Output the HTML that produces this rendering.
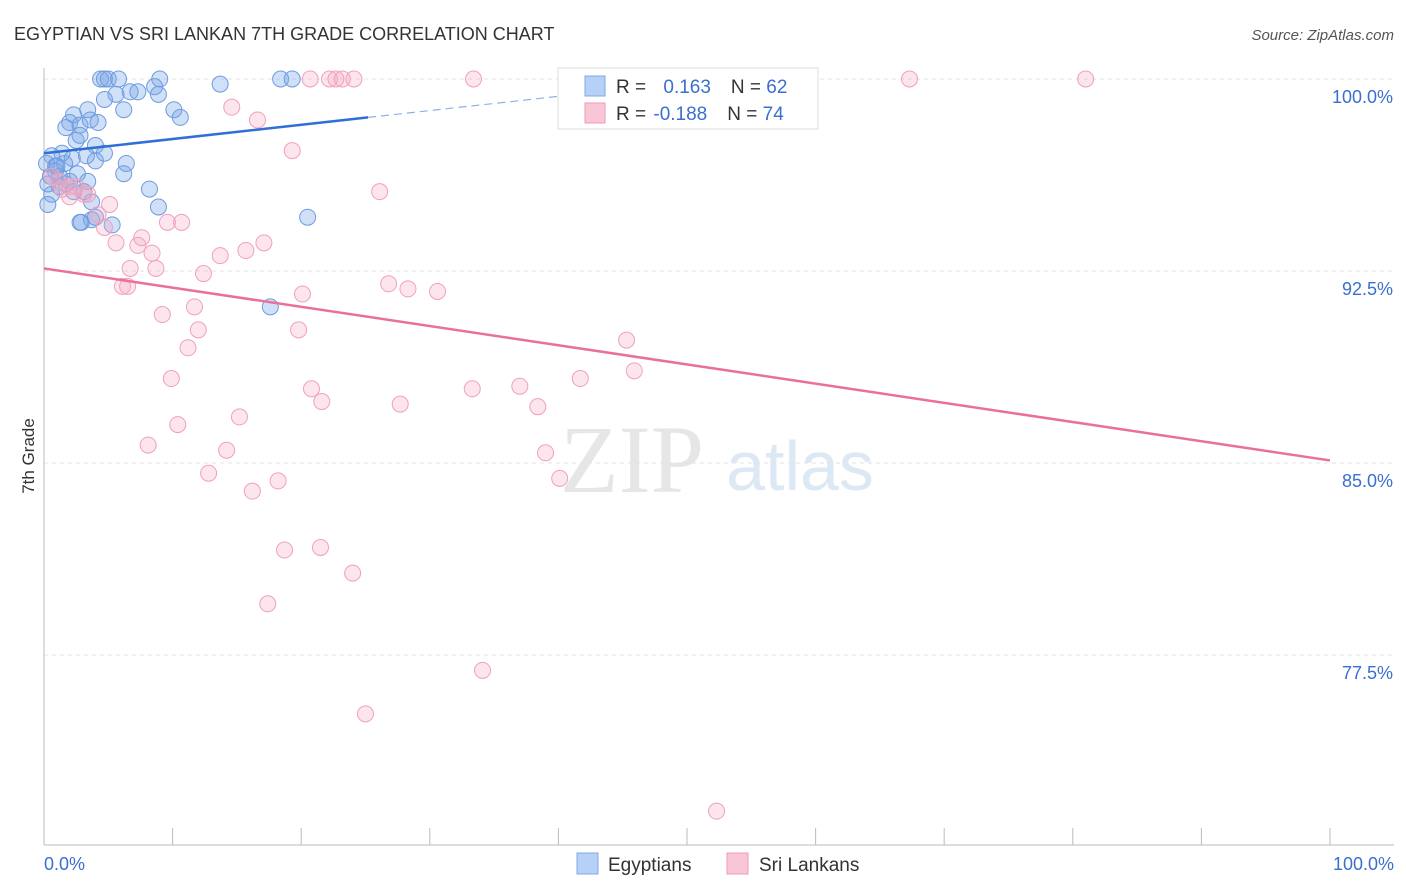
<!DOCTYPE html>
<html><head><meta charset="utf-8"><style>
body{margin:0;background:#fff;font-family:"Liberation Sans",sans-serif;}
svg{display:block}
</style></head><body>
<svg id="chart" width="1406" height="892">
<text x="14" y="40" font-size="18" fill="#333">EGYPTIAN VS SRI LANKAN 7TH GRADE CORRELATION CHART</text>
<text x="1394" y="40" font-size="15" fill="#555" text-anchor="end" font-style="italic">Source: ZipAtlas.com</text>
<text x="34" y="456" font-size="17" fill="#333" text-anchor="middle" transform="rotate(-90 34 456)">7th Grade</text>
<text x="632" y="492" font-size="96" fill="#e6e6e6" font-family="Liberation Serif,serif" text-anchor="middle">ZIP</text>
<text x="800" y="490" font-size="70" fill="#dde8f5" text-anchor="middle">atlas</text>
<g id="grid"></g><g id="marks"></g>
<g>
<rect x="558" y="68" width="260" height="61" fill="#fff" stroke="#ddd"/>
<rect x="585" y="76" width="20" height="20" fill="#b7d0f5" stroke="#7fa8e6"/>
<rect x="585" y="103" width="20" height="20" fill="#f8c6d6" stroke="#ee9bb7"/>
<text x="616" y="93" font-size="19" fill="#333">R = <tspan fill="#3a6fd0" dx="12">0.163</tspan><tspan dx="20">N = </tspan><tspan fill="#3a6fd0">62</tspan></text>
<text x="616" y="120" font-size="19" fill="#333">R = <tspan fill="#3a6fd0" dx="2">-0.188</tspan><tspan dx="20">N = </tspan><tspan fill="#3a6fd0">74</tspan></text>
</g>
<g>
<rect x="577" y="853" width="21" height="21" fill="#b7d0f5" stroke="#7fa8e6"/>
<text x="608" y="871" font-size="19" fill="#333">Egyptians</text>
<rect x="727" y="853" width="21" height="21" fill="#f8c6d6" stroke="#ee9bb7"/>
<text x="759" y="871" font-size="19" fill="#333">Sri Lankans</text>
</g>
</svg>
<script>
const yTicks=[100,92.5,85,77.5];
const yTickLabels=["100.0%","92.5%","85.0%","77.5%"];
const xTickLabels=["0.0%","100.0%"];
const egyX=[4.4,4.7,5.0,5.8,9.0,13.7,18.4,19.3,6.7,7.3,8.6,8.9,5.6,4.7,3.4,6.2,10.1,10.6,2.3,2.0,1.7,2.8,3.6,4.2,2.5,2.8,4.0,4.7,3.3,1.4,0.6,2.2,1.6,6.4,6.2,2.6,0.9,1.2,0.3,1.7,2.0,0.6,0.3,3.1,3.7,8.2,8.9,2.9,3.7,4.0,5.3,20.5,17.6,0.9,0.2,0.5,1.2,2.3,2.8,3.4,4.0,1.0];
const egyY=[100,100,100,100,100,99.8,100,100,99.5,99.5,99.7,99.4,99.4,99.2,98.8,98.8,98.8,98.5,98.6,98.3,98.1,98.2,98.4,98.3,97.6,97.8,97.4,97.1,97.0,97.1,97.0,96.9,96.7,96.7,96.3,96.3,96.4,96.2,95.9,95.9,96.0,95.5,95.1,95.6,95.2,95.7,95.0,94.4,94.5,94.6,94.3,94.6,91.1,96.6,96.7,96.2,95.8,95.6,94.4,96.0,96.8,96.6];
const sriX=[20.7,22.2,22.7,23.2,24.1,33.4,67.3,81.0,14.6,16.6,19.3,26.1,0.6,1.1,2.0,2.5,3.1,2.0,3.4,1.4,5.1,4.2,4.7,7.6,5.6,7.3,8.4,13.7,15.7,17.1,9.6,10.7,6.7,8.7,12.4,6.1,6.5,26.8,28.3,30.6,20.1,11.7,9.2,12.0,19.8,45.3,11.2,45.9,41.7,9.9,37.0,33.3,20.8,21.6,27.7,38.4,15.2,10.4,8.1,14.2,39.0,12.8,40.1,18.2,16.2,18.7,21.5,24.0,17.4,34.1,25.0,52.3];
const sriY=[100,100,100,100,100,100,100,100,98.9,98.4,97.2,95.6,96.2,96.0,95.8,95.8,95.5,95.4,95.5,95.7,95.1,94.7,94.2,93.8,93.6,93.5,93.2,93.1,93.3,93.6,94.4,94.4,92.6,92.6,92.4,91.9,91.9,92.0,91.8,91.7,91.6,91.1,90.8,90.2,90.2,89.8,89.5,88.6,88.3,88.3,88.0,87.9,87.9,87.4,87.3,87.2,86.8,86.5,85.7,85.5,85.4,84.6,84.4,84.3,83.9,81.6,81.7,80.7,79.5,76.9,75.2,71.4];
const egyLine=[97.1,98.5,25.2,42.5];   // y at x=0, y at x=25.2 (solid end), dashed to x
const sriLine=[92.6,85.1];            // y at x=0, y at x=100
const X=v=>44+v*12.86, Y=v=>79+(100-v)*25.6;
const NS="http://www.w3.org/2000/svg";
function mk(t,a,p){const e=document.createElementNS(NS,t);for(const k in a)e.setAttribute(k,a[k]);p.appendChild(e);return e;}
const g=document.getElementById('grid'),m=document.getElementById('marks');
yTicks.forEach((t,i)=>{
 const l=mk('line',{x1:44,x2:1394,y1:Y(t),y2:Y(t),stroke:'#e3e3e3','stroke-dasharray':'4,4'},g);
 
 
 const tx=mk('text',{x:1393,y:Y(t)+24,'font-size':18,fill:'#3a6fd0','text-anchor':'end'},g);
 tx.textContent=yTickLabels[i];
 
 
});
const ax=mk('line',{x1:44,x2:1394,y1:845,y2:845,stroke:'#bbb'},g);


const ay=mk('line',{x1:44,x2:44,y1:68,y2:845,stroke:'#bbb'},g);


for(let k=0;k<=10;k++){const t=mk('line',{x1:X(k*10),x2:X(k*10),y1:828,y2:845,stroke:'#bbb'},g);
 
 }
[[0,'start',44],[1,'end',1394]].forEach(([i,a,x])=>{const t=mk('text',{x:x,y:870,'font-size':18,fill:'#3a6fd0','text-anchor':a},g);t.textContent=xTickLabels[i];
 
 });
egyX.forEach((x,i)=>{const c=mk('circle',{cx:X(x),cy:Y(egyY[i]),r:8,fill:'rgba(120,165,230,0.35)',stroke:'#6d9be0','stroke-width':1},m);
 
 });
sriX.forEach((x,i)=>{const c=mk('circle',{cx:X(x),cy:Y(sriY[i]),r:8,fill:'rgba(245,170,195,0.3)',stroke:'#f0a0bc','stroke-width':1},m);
 
 });
const slope=(egyLine[1]-egyLine[0])/egyLine[2];
const l1=mk('line',{x1:X(0),y1:Y(egyLine[0]),x2:X(egyLine[2]),y2:Y(egyLine[1]),stroke:'#2f6fd6','stroke-width':2.5},m);


const l2=mk('line',{x1:X(egyLine[2]),y1:Y(egyLine[1]),x2:X(egyLine[3]),y2:Y(egyLine[0]+slope*egyLine[3]),stroke:'#8fb0e6','stroke-width':1.2,'stroke-dasharray':'8,5'},m);


const l3=mk('line',{x1:X(0),y1:Y(sriLine[0]),x2:X(100),y2:Y(sriLine[1]),stroke:'#e8709a','stroke-width':2.5},m);


</script>
</body></html>
